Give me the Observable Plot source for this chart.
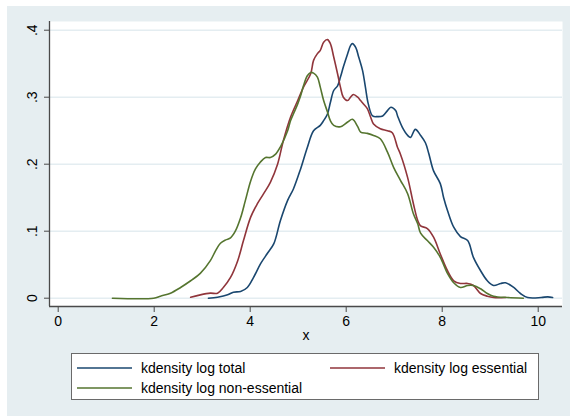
<!DOCTYPE html>
<html>
<head>
<meta charset="utf-8">
<script src="https://cdn.jsdelivr.net/npm/d3@7"></script>
<script src="https://cdn.jsdelivr.net/npm/@observablehq/plot@0.6"></script>
<style>
  html, body { margin: 0; padding: 0; background: #ffffff; }
  #wrap { position: relative; width: 570px; height: 416px; overflow: hidden; font-family: "Liberation Sans", Arial, sans-serif; }
  #bg { position: absolute; left: 7px; top: 6px; right: 0; bottom: 0; background: #e6eef1; }
  #chart { position: relative; }
  #chart svg { display: block; }
  #legend { position: relative; margin-left: 71px; margin-top: 8px; width: 466px; height: 45px; background: #ffffff; border: 1px solid #6a6a6a; font-size: 14px; color: #000; }
  .item { position: absolute; display: flex; align-items: center; white-space: nowrap; height: 20px; }
  .item svg { display: block; margin-right: 9px; }
</style>
</head>
<body>
<div id="wrap">
  <div id="bg"></div>
  <div id="chart"></div>
  <div id="legend"></div>
</div>
<script>
// ---- Data ----
const seriesNames = ["kdensity log total", "kdensity log essential", "kdensity log non-essential"];
const seriesColors = ["#1a476f", "#90353b", "#55752f"];

const totalX = [3.13,3.32,3.53,3.65,3.80,3.94,4.07,4.22,4.36,4.49,4.63,4.78,4.90,5.05,5.19,5.32,5.46,5.53,5.61,5.67,5.74,5.82,5.88,5.94,6.03,6.09,6.13,6.20,6.26,6.34,6.40,6.46,6.55,6.65,6.76,6.86,6.93,7.03,7.07,7.17,7.28,7.34,7.44,7.55,7.65,7.72,7.82,7.96,8.03,8.11,8.24,8.38,8.53,8.65,8.80,8.94,9.07,9.22,9.32,9.49,9.63,9.78,10.06,10.20,10.30];
const totalY = [0,0.0015,0.005,0.009,0.01,0.016,0.031,0.052,0.067,0.081,0.116,0.146,0.163,0.193,0.225,0.25,0.258,0.265,0.275,0.292,0.31,0.317,0.33,0.345,0.365,0.377,0.38,0.374,0.36,0.34,0.315,0.29,0.272,0.271,0.272,0.28,0.285,0.28,0.272,0.255,0.243,0.24,0.252,0.243,0.232,0.216,0.19,0.171,0.15,0.131,0.106,0.092,0.086,0.061,0.041,0.026,0.019,0.022,0.023,0.016,0.007,0.001,0.001,0.002,0.001];

const essentialX = [2.76,2.96,3.17,3.32,3.44,3.59,3.74,3.86,4.01,4.15,4.28,4.42,4.57,4.69,4.84,4.99,5.11,5.26,5.32,5.40,5.46,5.53,5.61,5.67,5.74,5.82,5.88,5.94,6.03,6.09,6.15,6.24,6.30,6.36,6.44,6.51,6.57,6.71,6.86,6.96,7.07,7.13,7.28,7.40,7.49,7.55,7.69,7.82,7.96,8.11,8.24,8.38,8.53,8.65,8.80,8.94,9.07,9.32];
const essentialY = [0.0015,0.005,0.0075,0.0075,0.016,0.031,0.056,0.086,0.121,0.141,0.156,0.173,0.20,0.235,0.27,0.295,0.315,0.335,0.355,0.365,0.37,0.382,0.386,0.38,0.36,0.335,0.315,0.30,0.295,0.30,0.304,0.30,0.295,0.29,0.283,0.27,0.26,0.253,0.25,0.247,0.225,0.215,0.18,0.141,0.116,0.108,0.104,0.091,0.066,0.041,0.026,0.022,0.022,0.019,0.007,0.003,0.001,0.001];

const nonessX = [1.13,1.99,2.13,2.34,2.55,2.76,2.96,3.17,3.28,3.38,3.49,3.59,3.69,3.80,3.90,4.01,4.11,4.21,4.32,4.42,4.53,4.63,4.78,4.84,4.90,4.99,5.05,5.11,5.19,5.26,5.32,5.40,5.46,5.53,5.61,5.67,5.74,5.88,6.03,6.13,6.24,6.30,6.44,6.57,6.71,6.86,6.99,7.13,7.28,7.40,7.49,7.55,7.69,7.82,7.96,8.11,8.24,8.38,8.53,8.65,8.80,8.94,9.07,9.36,9.69];
const nonessY = [0,0,0.003,0.0075,0.016,0.026,0.037,0.056,0.071,0.082,0.087,0.09,0.10,0.12,0.146,0.175,0.193,0.203,0.21,0.21,0.215,0.226,0.25,0.265,0.275,0.29,0.302,0.317,0.332,0.337,0.336,0.33,0.315,0.295,0.278,0.265,0.258,0.256,0.263,0.267,0.256,0.248,0.246,0.243,0.238,0.218,0.195,0.176,0.156,0.126,0.111,0.097,0.086,0.076,0.061,0.037,0.023,0.016,0.019,0.019,0.014,0.007,0.003,0.001,0];

const xTicks = [0, 2, 4, 6, 8, 10];
const yTicks = [0, 0.1, 0.2, 0.3, 0.4];
const yTickLabels = ["0", ".1", ".2", ".3", ".4"];
const xLabel = "x";
const xDomain = [-0.181, 10.506];
const yDomain = [-0.0124, 0.413];

// ---- Build table ----
const rows = [];
[[totalX, totalY], [essentialX, essentialY], [nonessX, nonessY]].forEach(([xs, ys], i) => {
  xs.forEach((x, j) => rows.push({series: seriesNames[i], x, y: ys[j]}));
});
const yLabelRows = yTicks.map((v, i) => ({v, t: yTickLabels[i]}));

const axisColor = "#4a4a4a";

const chart = Plot.plot({
  width: 570,
  height: 345,
  marginLeft: 49,
  marginRight: 8,
  marginTop: 21,
  marginBottom: 39,
  x: {domain: xDomain},
  y: {domain: yDomain},
  color: {domain: seriesNames, range: seriesColors},
  style: {background: "transparent", fontFamily: "'Liberation Sans', Arial, sans-serif", fontSize: "14px", color: "#000"},
  marks: [
    Plot.frame({fill: "#ffffff", stroke: null}),
    Plot.gridY(yTicks, {stroke: "#e4edf1", strokeOpacity: 1, strokeWidth: 1.5}),
    Plot.line(rows, {x: "x", y: "y", z: "series", stroke: "series", strokeWidth: 1.6, curve: "catmull-rom"}),
    Plot.ruleX([xDomain[0]], {stroke: axisColor, strokeWidth: 1.3}),
    Plot.ruleY([yDomain[0]], {stroke: axisColor, strokeWidth: 1.3}),
    Plot.axisX(xTicks, {tickSize: 6, tickPadding: 4, stroke: axisColor, fill: "#000", fontSize: 14, label: null, tickFormat: d => String(d)}),
    Plot.axisY(yTicks, {tickSize: 5, stroke: axisColor, tickFormat: () => "", label: null}),
    Plot.text(yLabelRows, {y: "v", text: "t", frameAnchor: "left", dx: -17, rotate: -90, fontSize: 14, fill: "#000", textAnchor: "middle"}),
    Plot.text([xLabel], {text: d => d, frameAnchor: "bottom", dy: 33, fontSize: 14, fill: "#000"})
  ]
});
document.getElementById("chart").appendChild(chart);

// ---- Legend ----
const legend = document.getElementById("legend");
const legendPos = [
  {left: 5, top: 4},
  {left: 258, top: 4},
  {left: 5, top: 24}
];
seriesNames.forEach((name, i) => {
  const item = document.createElement("div");
  item.className = "item";
  item.style.left = legendPos[i].left + "px";
  item.style.top = legendPos[i].top + "px";
  item.innerHTML = `<svg width="55" height="4"><line x1="0" x2="55" y1="2" y2="2" stroke="${seriesColors[i]}" stroke-width="1.6"/></svg><span>${name}</span>`;
  legend.appendChild(item);
});
</script>
</body>
</html>
